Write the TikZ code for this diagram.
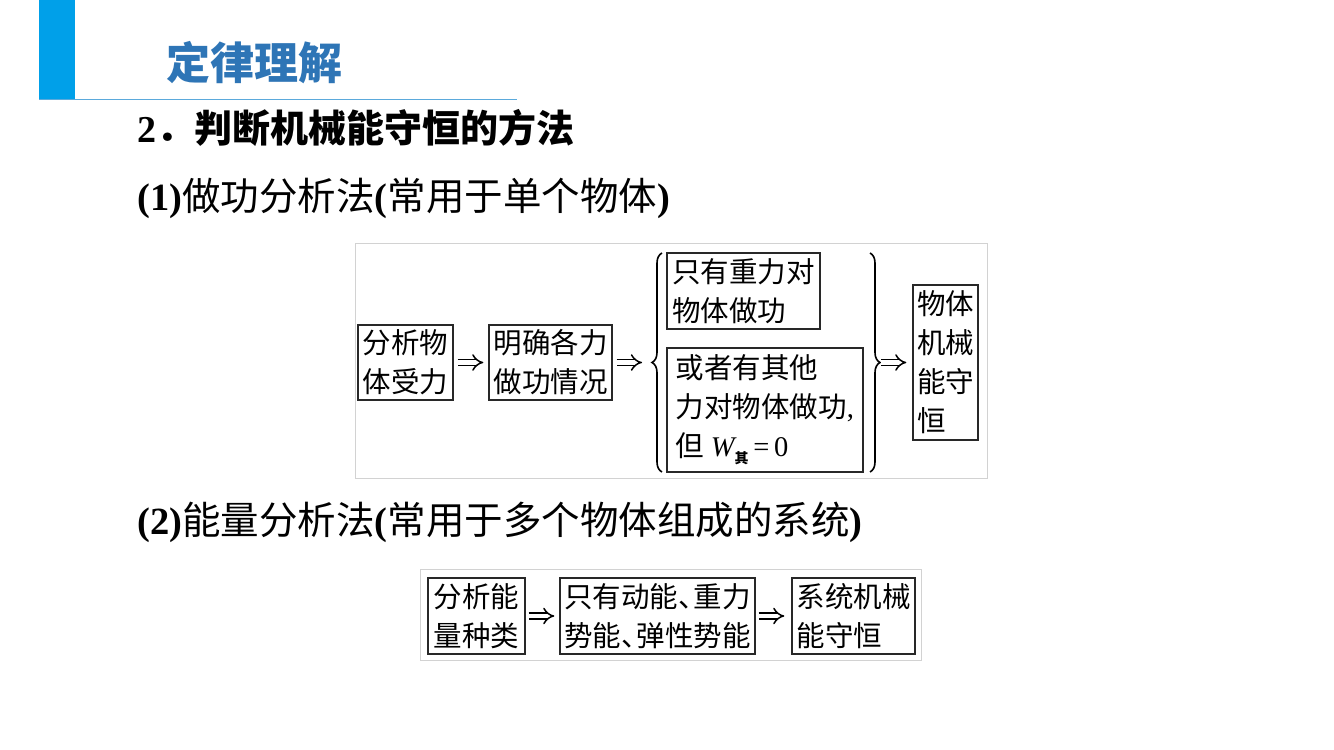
\documentclass[tikz,border=0pt]{standalone}
\usepackage{fontspec}
\setmainfont{Liberation Serif}
\newfontfamily\cjk{Noto Sans CJK SC}
\usetikzlibrary{arrows.meta,decorations.pathreplacing}
\definecolor{barblue}{RGB}{0,160,233}
\definecolor{headblue}{RGB}{46,117,182}
\definecolor{rule}{RGB}{91,170,220}
\definecolor{boxline}{RGB}{40,40,40}
\definecolor{frameline}{RGB}{210,210,210}
\newcommand{\dun}{\makebox[0.55em][l]{、}}
\tikzset{
  box/.style={draw=boxline, line width=1.3pt, inner sep=0pt, align=left, text=black,
    font=\cjk\fontsize{28.5}{39}\selectfont},
  frame/.style={draw=frameline, line width=0.8pt},
  imp/.style={draw=black, double, double distance=4.2pt, line width=1.5pt, -{Implies}},
  brc/.style={draw=black, line width=1.6pt, decorate, decoration={brace, amplitude=10pt}},
  head/.style={anchor=west, text=black, font=\fontsize{38.5}{38.5}\selectfont}
}
\begin{document}
\begin{tikzpicture}[x=1pt,y=-1pt]
\useasboundingbox (0,0) rectangle (1334,750);
\fill[white] (0,0) rectangle (1334,750);
% header
\fill[barblue] (39,0) rectangle (75,100);
\draw[rule, line width=1pt] (39,99.5) -- (517,99.5);
\node[anchor=west, text=headblue, font=\cjk\bfseries\fontsize{44}{44}\selectfont] (ttl) at (163,63) {定律理解};
\node[head, font=\bfseries\fontsize{38}{38}\selectfont] (t2) at (134,128) {2{\cjk ．判断机械能守恒的方法}};
\node[head] (t3) at (134,198) {\textbf{(1)}{\cjk 做功分析法}\textbf{(}{\cjk 常用于单个物体}\textbf{)}};
\node[head] (t4) at (134,522) {\textbf{(2)}{\cjk 能量分析法}\textbf{(}{\cjk 常用于多个物体组成的系统}\textbf{)}};
% diagram 1
\draw[frame] (355,243) rectangle (987,478);
\node[box, minimum width=95pt, minimum height=75pt] (a) at (405.5,362.5) {分析物\\体受力};
\node[box, minimum width=123pt, minimum height=75pt] (b) at (550.5,362.5) {明确各力\\做功情况};
\node[box, minimum width=153pt, minimum height=76pt] (c) at (743.5,291) {只有重力对\\物体做功};
\node[box, minimum width=196pt, minimum height=124pt] (d) at (765,410) {或者有其他\\力对物体做功{\fontspec{Liberation Serif},}\\但 {\fontspec{Liberation Serif}\itshape W}\raisebox{-7pt}{\fontsize{14}{14}\selectfont\bfseries 其}\,{\fontspec{Liberation Serif}=\,0}};
\node[box, minimum width=65pt, minimum height=155pt] (e) at (945.5,362.5) {物体\\机械\\能守\\恒};
\coordinate (lb1) at (662,472);
\coordinate (lb2) at (662,253);
\coordinate (rb1) at (870,253);
\coordinate (rb2) at (870,472);
\coordinate (ltip) at (652,362.5);
\coordinate (rtip) at (880,362.5);
\draw[brc] (lb1) -- (lb2);
\draw[brc] (rb1) -- (rb2);
\draw[imp, shorten <=4pt, shorten >=5pt] (a) -- (b);
\draw[imp, shorten <=4pt, shorten >=10pt] (b) -- (ltip);
\draw[imp, shorten <=1pt, shorten >=6pt] (rtip) -- (e);
% diagram 2
\draw[frame] (420,569) rectangle (921,660);
\node[box, minimum width=97pt, minimum height=76pt] (f) at (476.5,616) {分析能\\量种类};
\node[box, minimum width=195pt, minimum height=76pt] (g) at (657.5,616) {只有动能\dun 重力\\势能\dun 弹性势能};
\node[box, minimum width=123pt, minimum height=76pt] (h) at (853.5,616) {系统机械\\能守恒};
\draw[imp, shorten <=3pt, shorten >=5pt] (f) -- (g);
\draw[imp, shorten <=3pt, shorten >=7pt] (g) -- (h);
\end{tikzpicture}
\end{document}
